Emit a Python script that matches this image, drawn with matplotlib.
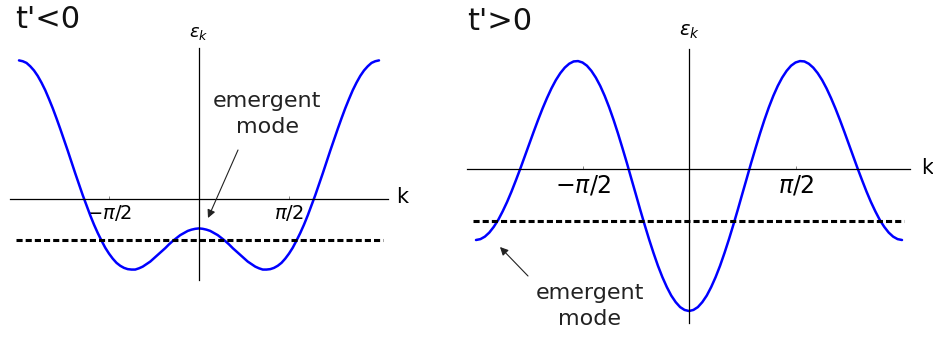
import numpy as np
import matplotlib
matplotlib.use("Agg")
import matplotlib.pyplot as plt

plt.rcParams['font.family'] = ['DejaVu Sans']
plt.rcParams['mathtext.fontset'] = 'dejavusans'

# ---- data -------------------------------------------------------------
# momentum samples: k = j*pi/48, j = -48..48
k_steps = list(range(-48, 49))
# half-band values (k = 0 .. pi), mirrored for k<0
eps_left_half = [-0.70, -0.71, -0.73, -0.76, -0.81, -0.86, -0.93, -1.00, -1.08,
                 -1.17, -1.25, -1.33, -1.41, -1.49, -1.55, -1.61, -1.65, -1.68,
                 -1.68, -1.67, -1.64, -1.59, -1.52, -1.42, -1.30, -1.16, -0.99,
                 -0.81, -0.61, -0.39, -0.15, 0.09, 0.35, 0.61, 0.88, 1.15,
                 1.41, 1.67, 1.92, 2.16, 2.38, 2.59, 2.77, 2.93, 3.06,
                 3.16, 3.24, 3.28, 3.30]
eps_right_half = [-8.00, -7.94, -7.78, -7.50, -7.13, -6.65, -6.09, -5.45, -4.73,
                  -3.96, -3.14, -2.29, -1.41, -0.54, 0.34, 1.18, 2.00, 2.77,
                  3.48, 4.12, 4.68, 5.15, 5.53, 5.82, 6.00, 6.08, 6.06,
                  5.93, 5.71, 5.40, 5.01, 4.54, 4.00, 3.41, 2.77, 2.10,
                  1.41, 0.72, 0.03, -0.63, -1.27, -1.86, -2.39, -2.87, -3.26,
                  -3.58, -3.81, -3.95, -4.00]
eps_left = eps_left_half[:0:-1] + eps_left_half
eps_right = eps_right_half[:0:-1] + eps_right_half

mode_level_left = -0.98
mode_level_right = -2.93
tick_positions = [-np.pi / 2, np.pi / 2]
tick_labels = [r'$-\pi/2$', r'$\pi/2$']
panel_titles = ["t'<0", "t'>0"]

k = np.array(k_steps) * np.pi / 48

W, H = 933, 345
fig = plt.figure(figsize=(W / 100, H / 100), dpi=100)

def make_axes(px0, px1, x0pix, y0pix, sx, sy):
    # sx: pixels per unit k, sy: pixels per unit eps
    ax = fig.add_axes([px0 / W, 0, (px1 - px0) / W, 1])
    ax.set_xlim((px0 - x0pix) / sx, (px1 - x0pix) / sx)
    ax.set_ylim((y0pix - H) / sy, y0pix / sy)
    ax.patch.set_alpha(0)
    return ax

def to_data(ax_par, px, py):
    x0pix, y0pix, sx, sy = ax_par
    return (px - x0pix) / sx, (y0pix - py) / sy

def style_axes(ax, par, xb, yb, tick_fs):
    for s in ['top', 'right']:
        ax.spines[s].set_visible(False)
    ax.spines['bottom'].set_position(('data', 0))
    ax.spines['left'].set_position(('data', 0))
    for s in ['bottom', 'left']:
        ax.spines[s].set_linewidth(0.9)
        ax.spines[s].set_color('black')
    ax.spines['bottom'].set_bounds(*xb)
    ax.spines['left'].set_bounds(*yb)
    ax.set_xticks(tick_positions)
    ax.set_xticklabels(tick_labels, fontsize=tick_fs)
    ax.tick_params(axis='x', direction='in', length=2.5, width=0.5,
                   color='#555555', pad=3)
    ax.set_yticks([])

# ---- left panel ---------------------------------------------------------
parL = (199, 199, 180 / np.pi, 42.0)
axL = make_axes(0, 445, *parL)
style_axes(axL, parL,
           (to_data(parL, 10, 0)[0], to_data(parL, 388, 0)[0]),
           (to_data(parL, 0, 280)[1], to_data(parL, 0, 48)[1]), 14)
axL.plot(k, eps_left, color='#0000ff', lw=1.8, solid_capstyle='round')
axL.hlines(mode_level_left, -1.017 * np.pi, 1.022 * np.pi, colors='black',
           lw=2.2, linestyles=(0, (2, 1)))
axL.text(*to_data(parL, 199, 33), r'$\epsilon_k$', fontsize=13,
         ha='center', va='center')
axL.text(*to_data(parL, 402, 197), 'k', fontsize=15, ha='center', va='center')
axL.text(*to_data(parL, 267, 114), 'emergent\nmode', fontsize=16,
         ha='center', va='center', linespacing=1.35, color='#222222')
axL.annotate('', xy=to_data(parL, 208, 218), xytext=to_data(parL, 238, 150),
             arrowprops=dict(arrowstyle='-|>', lw=0.8, color='#222222',
                             mutation_scale=12, shrinkA=0, shrinkB=0))
fig.text(15 / W, 1 - 19 / H, panel_titles[0], fontsize=22,
         ha='left', va='center', color='#111111')

# ---- right panel --------------------------------------------------------
parR = (689, 169, 213 / np.pi, 17.75)
axR = make_axes(450, 933, *parR)
style_axes(axR, parR,
           (to_data(parR, 467, 0)[0], to_data(parR, 910, 0)[0]),
           (to_data(parR, 0, 323)[1], to_data(parR, 0, 49)[1]), 17)
axR.plot(k, eps_right, color='#0000ff', lw=1.8, solid_capstyle='round')
axR.hlines(mode_level_right, -1.014 * np.pi, 1.009 * np.pi, colors='black',
           lw=2.2, linestyles=(0, (2, 1)))
axR.text(*to_data(parR, 689, 32), r'$\epsilon_k$', fontsize=14,
         ha='center', va='center')
axR.text(*to_data(parR, 927, 168), 'k', fontsize=15, ha='center', va='center')
axR.text(*to_data(parR, 590, 306), 'emergent\nmode', fontsize=16,
         ha='center', va='center', linespacing=1.35, color='#222222')
axR.annotate('', xy=to_data(parR, 500, 247), xytext=to_data(parR, 528, 276),
             arrowprops=dict(arrowstyle='-|>', lw=0.8, color='#222222',
                             mutation_scale=12, shrinkA=0, shrinkB=0))
fig.text(467 / W, 1 - 21 / H, panel_titles[1], fontsize=22,
         ha='left', va='center', color='#111111')

fig.savefig('out.png', dpi=100)
